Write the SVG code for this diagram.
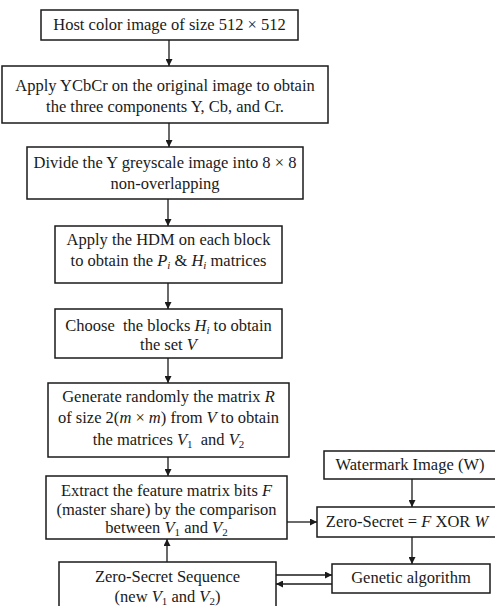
<svg xmlns="http://www.w3.org/2000/svg" width="495" height="606" viewBox="0 0 495 606">
<style>
.box{fill:#fff;stroke:#1a1a1a;stroke-width:1.5}
text{font-family:"Liberation Serif","DejaVu Serif",serif;font-size:16.5px;fill:#1a1a1a;text-anchor:middle}
.i{font-style:italic}
.s{font-size:11px}
.ln{stroke:#1a1a1a;stroke-width:1.3;fill:none}
</style>
<defs>
<marker id="ah" viewBox="0 0 8 8" refX="8" refY="4" markerWidth="7" markerHeight="7" markerUnits="userSpaceOnUse" orient="auto">
<path d="M0,0 L8,4 L0,8 z" fill="#1a1a1a"/>
</marker>
</defs>
<rect width="495" height="606" fill="#fff"/>
<g id="connectors">
<line class="ln" x1="169" y1="40" x2="169" y2="66" marker-end="url(#ah)"/>
<line class="ln" x1="169" y1="123" x2="169" y2="147" marker-end="url(#ah)"/>
<line class="ln" x1="168" y1="199" x2="168" y2="226" marker-end="url(#ah)"/>
<line class="ln" x1="168" y1="283" x2="168" y2="309" marker-end="url(#ah)"/>
<line class="ln" x1="168" y1="358" x2="168" y2="383" marker-end="url(#ah)"/>
<line class="ln" x1="168" y1="457" x2="168" y2="476" marker-end="url(#ah)"/>
<line class="ln" x1="167" y1="562" x2="167" y2="539" marker-end="url(#ah)"/>
<line class="ln" x1="287" y1="522" x2="317" y2="522" marker-end="url(#ah)"/>
<line class="ln" x1="412" y1="479" x2="412" y2="507" marker-end="url(#ah)"/>
<line class="ln" x1="412" y1="537" x2="412" y2="564" marker-end="url(#ah)"/>
<line class="ln" x1="276" y1="575" x2="332" y2="575" marker-end="url(#ah)"/>
<line class="ln" x1="332" y1="584" x2="276" y2="584" marker-end="url(#ah)"/>
</g>
<g id="n1">
<rect class="box" x="41" y="10" width="257" height="30"/>
<text x="169.5" y="30">Host color image of size 512 × 512</text>
</g>
<g id="n2">
<rect class="box" x="2" y="66" width="326" height="57"/>
<text x="165" y="91">Apply YCbCr on the original image to obtain</text>
<text x="165" y="112">the three components Y, Cb, and Cr.</text>
</g>
<g id="n3">
<rect class="box" x="27" y="147" width="276" height="52"/>
<text x="165" y="168">Divide the Y greyscale image into 8 × 8</text>
<text x="165" y="189">non-overlapping</text>
</g>
<g id="n4">
<rect class="box" x="55" y="226" width="227" height="57"/>
<text x="168.5" y="245">Apply the HDM on each block</text>
<text x="168.5" y="266">to obtain the <tspan class="i">P</tspan><tspan class="i s" dy="3">i</tspan><tspan dy="-3"> &amp; </tspan><tspan class="i">H</tspan><tspan class="i s" dy="3">i</tspan><tspan dy="-3"> matrices</tspan></text>
</g>
<g id="n5">
<rect class="box" x="55" y="309" width="227" height="49"/>
<text x="168.5" y="331">Choose&#160; the blocks <tspan class="i">H</tspan><tspan class="i s" dy="3">i</tspan><tspan dy="-3"> to obtain</tspan></text>
<text x="168.5" y="350">the set <tspan class="i">V</tspan></text>
</g>
<g id="n6">
<rect class="box" x="48" y="383" width="241" height="74"/>
<text x="168.5" y="402">Generate randomly the matrix <tspan class="i">R</tspan></text>
<text x="168.5" y="423">of size 2(<tspan class="i">m</tspan> × <tspan class="i">m</tspan>) from <tspan class="i">V</tspan> to obtain</text>
<text x="168.5" y="445">the matrices <tspan class="i">V</tspan><tspan class="s" dy="3">1</tspan><tspan dy="-3">&#160; and </tspan><tspan class="i">V</tspan><tspan class="s" dy="3">2</tspan></text>
</g>
<g id="n7">
<rect class="box" x="46" y="476" width="241" height="63"/>
<text x="166.5" y="496">Extract the feature matrix bits <tspan class="i">F</tspan></text>
<text x="166.5" y="515">(master share) by the comparison</text>
<text x="166.5" y="533">between <tspan class="i">V</tspan><tspan class="s" dy="3">1</tspan><tspan dy="-3"> and </tspan><tspan class="i">V</tspan><tspan class="s" dy="3">2</tspan></text>
</g>
<g id="n8">
<rect class="box" x="59" y="562" width="217" height="60"/>
<text x="167.5" y="582">Zero-Secret Sequence</text>
<text x="167.5" y="602">(new <tspan class="i">V</tspan><tspan class="s" dy="3">1</tspan><tspan dy="-3"> and </tspan><tspan class="i">V</tspan><tspan class="s" dy="3">2</tspan><tspan dy="-3">)</tspan></text>
</g>
<g id="n9">
<rect class="box" x="324" y="451" width="174" height="28"/>
<text x="410" y="470">Watermark Image (W)</text>
</g>
<g id="n10">
<rect class="box" x="317" y="507" width="181" height="30"/>
<text x="407" y="527">Zero-Secret = <tspan class="i">F</tspan> XOR <tspan class="i">W</tspan></text>
</g>
<g id="n11">
<rect class="box" x="332" y="564" width="158" height="29"/>
<text x="411" y="583">Genetic algorithm</text>
</g>
</svg>
